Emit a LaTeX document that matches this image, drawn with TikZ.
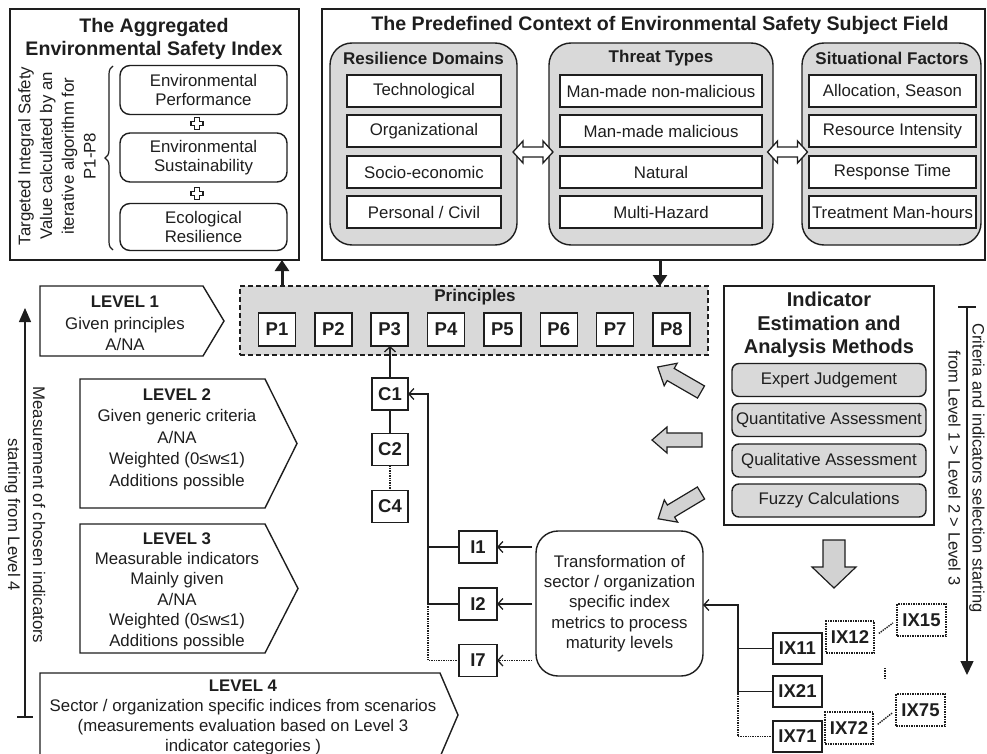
\documentclass[tikz,border=0pt]{standalone}
\usepackage{fontspec}
\setmainfont{Liberation Sans}
\usetikzlibrary{arrows.meta,decorations.pathreplacing,calc}
\definecolor{gfill}{HTML}{D9D9D9}
\definecolor{afill}{HTML}{D2D2D2}
\definecolor{ink}{HTML}{1E1E1E}
\begin{document}
\begin{tikzpicture}[x=1pt,y=-1pt,
  every node/.style={inner sep=0pt, outer sep=0pt, text=ink, font=\fontsize{16.8}{20.5}\selectfont},
  frame/.style={draw=ink, line width=1.4pt, fill=white},
  titlef/.style={font=\bfseries\fontsize{19.6}{23}\selectfont, align=center},
  subt/.style={font=\bfseries\fontsize{17}{20}\selectfont},
  rbox/.style={draw=ink, line width=1.4pt, fill=white, rounded corners=10pt, align=center, font=\fontsize{16.8}{19.5}\selectfont},
  gbox/.style={draw=ink, line width=1.4pt, fill=gfill, rounded corners=22pt},
  wbox/.style={draw=ink, line width=1.5pt, fill=white},
  mbox/.style={draw=ink, line width=1.4pt, fill=gfill, rounded corners=7pt, minimum width=194pt, minimum height=33pt},
  lab/.style={draw=ink, line width=1.5pt, fill=white, font=\bfseries\fontsize{18.5}{20}\selectfont},
  labd/.style={lab, densely dotted},
  conn/.style={draw=ink, line width=1.4pt},
  barb/.style={-{Straight Barb[length=5pt,width=11pt,line width=1.3pt]}},
  thickarrow/.style={draw=ink, line width=3pt, -{Triangle[length=11pt,width=14pt]}},
  fatarrow/.style={draw=ink, line width=1.2pt, fill=afill, line join=miter},
  dblarrow/.style={draw=ink, line width=1.3pt, fill=white, line join=miter},
  plusst/.style={draw=ink, line width=1.3pt, fill=white, line join=miter}
]
\useasboundingbox (0,0) rectangle (987,754);

% ---------------- Aggregated index box
\node[frame, minimum width=289pt, minimum height=251pt] (agg) at (154.5,134.5) {};
\node[titlef] (aggT) at (154,38.5) {The Aggregated\\Environmental Safety Index};
\node[rbox, minimum width=167pt, minimum height=49pt] (ep) at (203.5,90) {Environmental\\Performance};
\node[rbox, minimum width=167pt, minimum height=49pt] (es) at (203.5,157.5) {Environmental\\Sustainability};
\node[rbox, minimum width=167pt, minimum height=47pt] (er) at (203.5,227) {Ecological\\Resilience};
\draw[plusst, shift={(197,123.5)}] (-2.3,-6) -- (2.3,-6) -- (2.3,-2.3) -- (6,-2.3) -- (6,2.3) -- (2.3,2.3) -- (2.3,6) -- (-2.3,6) -- (-2.3,2.3) -- (-6,2.3) -- (-6,-2.3) -- (-2.3,-2.3) -- cycle;
\draw[plusst, shift={(197,193.5)}] (-2.3,-6) -- (2.3,-6) -- (2.3,-2.3) -- (6,-2.3) -- (6,2.3) -- (2.3,2.3) -- (2.3,6) -- (-2.3,6) -- (-2.3,2.3) -- (-6,2.3) -- (-6,-2.3) -- (-2.3,-2.3) -- cycle;
\draw[ink, line width=1.2pt, decorate, decoration={brace, amplitude=8pt}] (113,250) -- (113,66);
\node[rotate=90, align=center, font=\fontsize{16.8}{21.7}\selectfont] (aggSide) at (57,156) {Targeted Integral Safety\\Value calculated by an\\iterative algorithm for\\P1-P8};

% ---------------- Context box
\node[frame, minimum width=663pt, minimum height=251pt] (ctx) at (653.5,134.5) {};
\node[titlef] (ctxT) at (660,25) {The Predefined Context of Environmental Safety Subject Field};

\node[gbox, minimum width=187pt, minimum height=202pt] (rd) at (423.5,144) {};
\node[subt] (rdT) at (423.5,58) {Resilience Domains};
\node[wbox, minimum width=154pt, minimum height=32pt] (rd1) at (424,91) {Technological};
\node[wbox, minimum width=154pt, minimum height=32pt] (rd2) at (424,131) {Organizational};
\node[wbox, minimum width=154pt, minimum height=32pt] (rd3) at (424,172) {Socio-economic};
\node[wbox, minimum width=154pt, minimum height=32pt] (rd4) at (424,212) {Personal / Civil};

\node[gbox, minimum width=224pt, minimum height=202pt] (tt) at (661,144) {};
\node[subt] (ttT) at (661,58) {Threat Types};
\node[wbox, minimum width=202pt, minimum height=32pt] (tt1) at (661,91) {Man-made non-malicious};
\node[wbox, minimum width=202pt, minimum height=32pt] (tt2) at (661,131) {Man-made malicious};
\node[wbox, minimum width=202pt, minimum height=32pt] (tt3) at (661,172) {Natural};
\node[wbox, minimum width=202pt, minimum height=32pt] (tt4) at (661,212) {Multi-Hazard};

\node[gbox, minimum width=179pt, minimum height=202pt] (sf) at (891.5,144) {};
\node[subt] (sfT) at (892,58) {Situational Factors};
\node[wbox, minimum width=167pt, minimum height=32pt] (sf1) at (892.5,91) {Allocation, Season};
\node[wbox, minimum width=167pt, minimum height=32pt] (sf2) at (892.5,131) {Resource Intensity};
\node[wbox, minimum width=167pt, minimum height=32pt] (sf3) at (892.5,172) {Response Time};
\node[wbox, minimum width=167pt, minimum height=32pt] (sf4) at (892.5,212) {Treatment Man-hours};

\coordinate (da1) at ($(rd.east)!0.5!(tt.west)+(0,8)$);
\coordinate (da2) at ($(tt.east)!0.5!(sf.west)+(0,8)$);
\draw[dblarrow, shift={(da1)}] (-20,0) -- (-10,-11) -- (-10,-5) -- (10,-5) -- (10,-11) -- (20,0) -- (10,11) -- (10,5) -- (-10,5) -- (-10,11) -- cycle;
\draw[dblarrow, shift={(da2)}] (-20,0) -- (-10,-11) -- (-10,-5) -- (10,-5) -- (10,-11) -- (20,0) -- (10,11) -- (10,5) -- (-10,5) -- (-10,11) -- cycle;

% ---------------- Principles
\node[draw=ink, dash pattern=on 5pt off 3pt, fill=gfill, line width=1.4pt, minimum width=468pt, minimum height=69pt] (prin) at (474,320.5) {};
\node[subt] (prinT) at (475,297) {Principles};
\foreach \i in {1,...,8}{
  \node[lab, minimum width=37pt, minimum height=33pt] (P\i) at ({277+56.35*(\i-1)},329.5) {P\i};
}
\coordinate (upS) at (282,286);
\draw[thickarrow] (upS) -- (upS |- agg.south);
\coordinate (dnE) at (660,286);
\draw[thickarrow] (dnE |- ctx.south) -- (dnE);

% ---------------- Levels
\draw[frame] (40,286) -- (203,286) -- (224,321) -- (203,356) -- (40,356) -- cycle;
\node[align=center, font=\fontsize{16.8}{21.5}\selectfont] (L1) at (125,323.5) {\textbf{LEVEL 1}\\Given principles\\A/NA};
\draw[frame] (80,379) -- (265,379) -- (297,443.5) -- (265,508) -- (80,508) -- cycle;
\node[align=center, font=\fontsize{16.8}{21.5}\selectfont] (L2) at (177,439) {\textbf{LEVEL 2}\\Given generic criteria\\A/NA\\Weighted (0≤w≤1)\\Additions possible};
\draw[frame] (80,524) -- (265,524) -- (298,588.5) -- (265,653) -- (80,653) -- cycle;
\node[align=center, font=\fontsize{16.8}{20.4}\selectfont] (L3) at (177,591) {\textbf{LEVEL 3}\\Measurable indicators\\Mainly given\\A/NA\\Weighted (0≤w≤1)\\Additions possible};
\draw[frame] (40,673) -- (440,673) -- (458,715) -- (440,757) -- (40,757) -- cycle;
\node[align=center, font=\fontsize{16.8}{20}\selectfont] (L4) at (243,717) {\textbf{LEVEL 4}\\Sector / organization specific indices from scenarios\\(measurements evaluation based on Level 3\\indicator categories )};

% left vertical arrow
\coordinate (la1) at (25,717);
\coordinate (la2) at (25,308);
\draw[conn, -{Triangle[length=14pt,width=12pt]}] (la1) -- (la2);
\draw[conn] ($(la1)+(-8,0)$) -- ($(la1)+(8,0)$);
\node[rotate=-90, align=center, font=\fontsize{16.8}{25}\selectfont] (laT) at (25,515) {Measurement of chosen indicators\\starting from Level 4};

% ---------------- Criteria
\node[lab, minimum width=36pt, minimum height=32pt] (C1) at (390,394) {C1};
\node[lab, minimum width=36pt, minimum height=32pt] (C2) at (390,449.5) {C2};
\node[lab, minimum width=36pt, minimum height=32pt] (C4) at (390,506.5) {C4};
\draw[conn, barb] (C1.north) -- (C1.north |- P3.south);
\draw[conn] (C1) -- (C2);
\draw[conn, densely dotted] (C2) -- (C4);

% ---------------- Indicators
\node[lab, minimum width=38pt, minimum height=32pt] (I1) at (478,547) {I1};
\node[lab, minimum width=38pt, minimum height=32pt] (I2) at (478,604) {I2};
\node[lab, minimum width=38pt, minimum height=32pt] (I7) at (478,660.5) {I7};
\coordinate (busC) at ($(C1.east)+(20,0)$);
\draw[conn, barb] (I2.west) -| (busC) -- (C1.east);
\draw[conn] (I1.west) -- (I1.west -| busC);
\draw[conn, densely dotted] (I7.west) -| (I2.west -| busC);

\node[rbox, rounded corners=22pt, minimum width=167pt, minimum height=145pt, font=\fontsize{16.8}{20.3}\selectfont] (tr) at (619.5,603.5) {Transformation of\\sector / organization\\specific index\\metrics to process\\maturity levels};
\draw[conn, barb] ($(tr.west |- I1)+(-4,0)$) -- (I1.east);
\draw[conn, barb] ($(tr.west |- I2)+(-4,0)$) -- (I2.east);
\draw[conn, barb, densely dotted] ($(tr.west |- I7)+(-4,0)$) -- (I7.east);

% ---------------- Indices
\node[lab, minimum width=49pt, minimum height=31pt] (IX11) at (797.5,648.5) {IX11};
\node[lab, minimum width=49pt, minimum height=31pt] (IX21) at (797.5,691.5) {IX21};
\node[lab, minimum width=49pt, minimum height=31pt] (IX71) at (797.5,736.5) {IX71};
\node[labd, minimum width=48pt, minimum height=32pt] (IX12) at (850,637) {IX12};
\node[labd, minimum width=49pt, minimum height=32pt] (IX15) at (921.5,620) {IX15};
\node[labd, minimum width=48pt, minimum height=32pt] (IX72) at (849,728) {IX72};
\node[labd, minimum width=49pt, minimum height=32pt] (IX75) at (920.5,710) {IX75};
\coordinate (busX) at ($(IX11.west)+(-35,0)$);
\draw[conn, barb] (IX21.west) -| (busX) |- ($(tr.east)+(0,1.5)$);
\draw[conn] (IX11.west) -- (busX);
\draw[conn, densely dotted] (IX71.west) -| (IX21.west -| busX);
\draw[conn, densely dotted, shorten <=6pt, shorten >=5pt] (IX12.east) -- (IX15.west);
\draw[conn, densely dotted, shorten <=6pt, shorten >=5pt] (IX72.east) -- (IX75.west);
\coordinate (vd1) at (885,668);
\coordinate (vd2) at (885,679);
\draw[conn, densely dotted] (vd1) -- (vd2);

% ---------------- Methods
\node[frame, minimum width=210pt, minimum height=239pt] (iem) at (829,405.5) {};
\node[align=center, font=\bfseries\fontsize{20}{23.5}\selectfont] (iemT) at (829,325) {Indicator\\Estimation and\\Analysis Methods};
\node[mbox] (m1) at (829,380) {Expert Judgement};
\node[mbox] (m2) at (829,420) {Quantitative Assessment};
\node[mbox] (m3) at (829,460.5) {Qualitative Assessment};
\node[mbox] (m4) at (829,500.5) {Fuzzy Calculations};

% fat gray arrows
\draw[fatarrow, shift={(701,392)}, rotate=150] (0,-7) -- (35,-7) -- (35,-13) -- (50,0) -- (35,13) -- (35,7) -- (0,7) -- cycle;
\draw[fatarrow, shift={(702,440)}, rotate=180] (0,-7) -- (35,-7) -- (35,-13) -- (50,0) -- (35,13) -- (35,7) -- (0,7) -- cycle;
\draw[fatarrow, shift={(701,493)}, rotate=211] (0,-7) -- (35,-7) -- (35,-13) -- (50,0) -- (35,13) -- (35,7) -- (0,7) -- cycle;
\draw[fatarrow, shift={(834,540)}, rotate=-90] (0,-11) -- (27,-11) -- (27,-22) -- (48,0) -- (27,22) -- (27,11) -- (0,11) -- cycle;

% right vertical arrow
\coordinate (ra1) at (967,307);
\coordinate (ra2) at (967,675);
\draw[conn, -{Triangle[length=14pt,width=13pt]}] (ra1) -- (ra2);
\draw[conn] ($(ra1)+(-9,0)$) -- ($(ra1)+(9,0)$);
\node[rotate=-90, align=center, font=\fontsize{16.5}{24}\selectfont] (raT) at (966.5,468) {Criteria and indicators selection starting\\from Level 1 > Level 2 > Level 3};
\end{tikzpicture}
\end{document}
